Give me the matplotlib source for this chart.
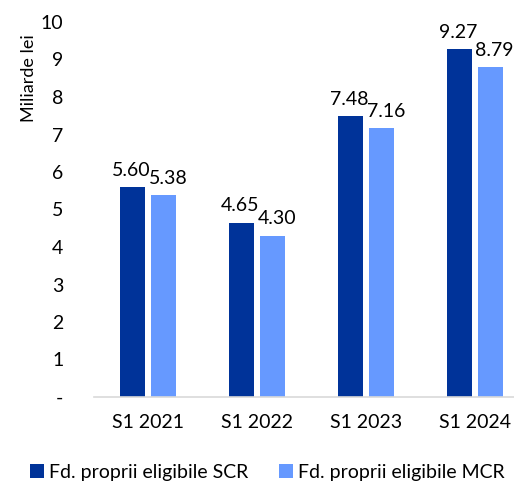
import numpy as np
import matplotlib
matplotlib.use("Agg")
import matplotlib.pyplot as plt

plt.rcParams['font.family'] = ['Lato', 'DejaVu Sans']

periods = ['S1 2021', 'S1 2022', 'S1 2023', 'S1 2024']
scr = [5.60, 4.65, 7.48, 9.27]
mcr = [5.38, 4.30, 7.16, 8.79]
series_names = ['Fd. proprii eligibile SCR', 'Fd. proprii eligibile MCR']
colors = ['#003399', '#6699FF']

fig = plt.figure(figsize=(5.14, 4.86), dpi=100)
ax = fig.add_axes([94 / 514, 1 - 397 / 486, 420 / 514, 375 / 486])

x = np.arange(len(periods))
w = 0.23
off = 0.143
b1 = ax.bar(x - off, scr, w, color=colors[0], label=series_names[0])
b2 = ax.bar(x + off, mcr, w, color=colors[1], label=series_names[1])

# labels for the lighter bars are nudged right so close values don't collide
for bars, vals, dx in ((b1, scr, -1), (b2, mcr, 3)):
    for r, v in zip(bars, vals):
        ax.annotate(f'{v:.2f}', (r.get_x() + r.get_width() / 2, v),
                    xytext=(dx, 6), textcoords='offset points',
                    ha='center', va='bottom', fontsize=14, color='#000000')

ax.set_ylim(0, 10)
ax.set_xlim(-0.5, 3.36)
ax.set_yticks(range(0, 11))
ax.set_yticklabels(['-'] + [str(i) for i in range(1, 11)])
ax.set_xticks(x)
ax.set_xticklabels(periods)
ax.tick_params(axis='both', length=0, labelsize=14, colors='#000000')
ax.tick_params(axis='y', pad=22)
ax.tick_params(axis='x', pad=12)

for s in ['top', 'right', 'left']:
    ax.spines[s].set_visible(False)
ax.spines['bottom'].set_color('#D9D9D9')
ax.spines['bottom'].set_linewidth(1.2)

ax.set_ylabel('Miliarde lei', fontsize=13)
ax.yaxis.set_label_coords(-0.135, 0.85)

fig.legend(handles=[b1, b2], loc='center', bbox_to_anchor=(0.52, 1 - 472 / 486),
           ncol=2, frameon=False, fontsize=14, handlelength=0.7, handleheight=0.7,
           handletextpad=0.25, columnspacing=1.6)

fig.savefig('out.png', dpi=100)
